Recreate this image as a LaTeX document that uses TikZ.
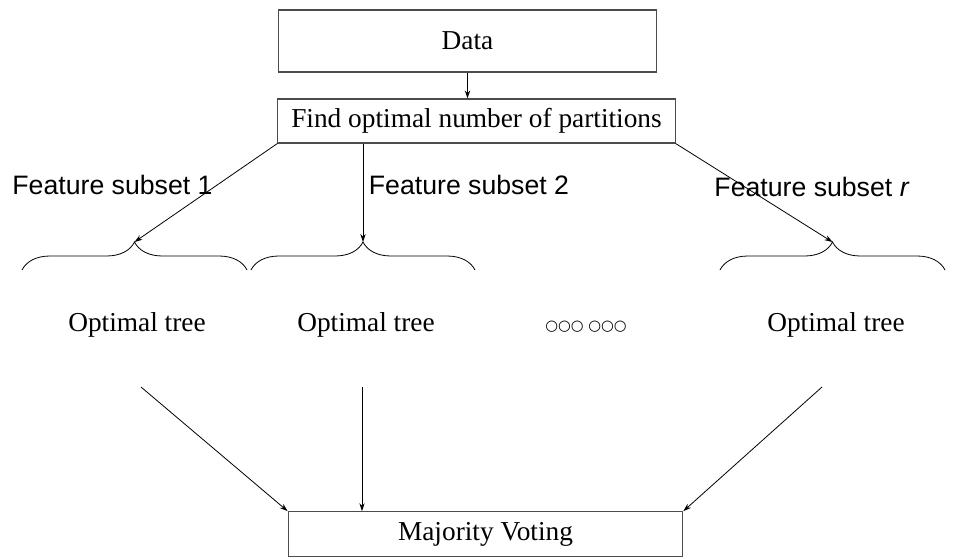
\documentclass[tikz,border=0pt]{standalone}
\usepackage{fontspec}
\setmainfont{Liberation Serif}
\newfontfamily\arialfont{Liberation Sans}
\newfontfamily\dotsfont{DejaVu Sans}
\usetikzlibrary{arrows.meta,decorations.pathreplacing}

\begin{document}
\begin{tikzpicture}[x=0.75pt, y=-0.75pt, font=\fontsize{20.5}{23}\selectfont,
  box/.style={draw=black!70, line width=0.8pt, align=center, inner sep=0pt},
  lbl/.style={font=\arialfont\fontsize{20}{22}\selectfont, inner sep=0pt},
  brc/.style={decorate, decoration={brace, amplitude=21pt}, line width=0.6pt},
  >={Stealth[length=6pt, width=4pt]}, line width=0.6pt]
\useasboundingbox (0,0) rectangle (958,558);
\node[box, minimum width=284pt, minimum height=46.5pt] (data) at (467.5,41) {Data};
\node[box, minimum width=298pt, minimum height=33pt] (fd) at (476.5,121) {Find optimal number of partitions};
\node[box, minimum width=296pt, minimum height=33.5pt] (mv) at (485.5,534) {Majority Voting};
\node[lbl] (l1) at (112.5,185) {Feature subset 1};
\node[lbl] (l2) at (469,185) {Feature subset 2};
\node[lbl] (lr) at (812,187) {Feature subset \textit{r}};
% braces over the trees
\draw[brc] (22,270) -- (247,270);
\draw[brc] (251,270) -- (475,270);
\draw[brc] (720,270) -- (945,270);
\coordinate (b1) at (134.5,242); \coordinate (b2) at (363,242); \coordinate (b3) at (832.5,242);
\node (t1) at (137,325) {Optimal tree};
\node (t2) at (366,325) {Optimal tree};
\node (t3) at (836,325) {Optimal tree};
\node[font=\dotsfont\fontsize{11}{13}\selectfont] (dots) at (586,327) {○○○ ○○○};
\coordinate (s1) at (141,387); \coordinate (s2) at (362,387); \coordinate (s3) at (822,387);
\draw[->] (data.south) -- (data.south |- fd.north);
\draw[->] (fd.south west) -- (b1);
\draw[->] (b2 |- fd.south) -- (b2);
\draw[->] (fd.south east) -- (b3);
\draw[->] (s1) -- (mv.north west);
\draw[->] (s2) -- (s2 |- mv.north);
\draw[->] (s3) -- (mv.north east);
\end{tikzpicture}
\end{document}
